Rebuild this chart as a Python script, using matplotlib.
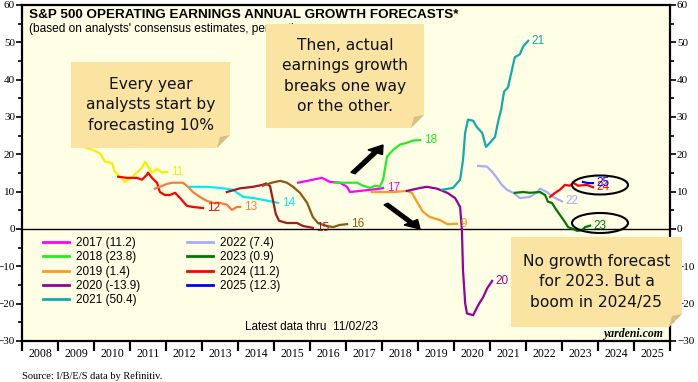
import matplotlib
matplotlib.use("Agg")
import matplotlib.pyplot as plt
from matplotlib.patches import Polygon, Ellipse, FancyArrow
from matplotlib.lines import Line2D

W, H = 698, 382

# forecast year -> (decimal years, growth %)
y2011_x = [2009.45, 2009.69, 2009.97, 2010.17, 2010.31, 2010.50, 2010.58, 2010.72, 2010.86, 2011.00,
           2011.19, 2011.33, 2011.42, 2011.50, 2011.61, 2011.75, 2011.89, 2012.03]
y2011_v = [23.5, 22.0, 21.2, 20.2, 18.0, 17.7, 15.3, 14.0, 12.6, 13.4, 15.1, 16.4, 18.0, 16.7, 15.1, 16.1, 15.1, 15.3]

y2012_x = [2010.67, 2010.92, 2011.19, 2011.33, 2011.47, 2011.50, 2011.61, 2011.75, 2011.83, 2011.97,
           2012.11, 2012.25, 2012.39, 2012.58, 2012.75, 2013.03]
y2012_v = [14.0, 13.7, 13.7, 13.2, 14.5, 15.1, 13.7, 12.4, 9.9, 9.1, 9.1, 9.7, 8.3, 6.2, 5.9, 5.6]

y2013_x = [2011.69, 2011.83, 2012.03, 2012.19, 2012.47, 2012.61, 2012.75, 2012.94, 2013.14, 2013.31,
           2013.50, 2013.69, 2013.83, 2013.97, 2014.06]
y2013_v = [10.8, 11.3, 12.1, 12.4, 12.4, 11.3, 9.9, 8.6, 7.5, 7.0, 7.0, 6.5, 5.1, 5.9, 5.9]

y2014_x = [2012.67, 2013.14, 2013.50, 2013.86, 2014.14, 2014.42, 2014.69, 2014.97, 2015.11]
y2014_v = [11.3, 11.3, 11.0, 10.5, 8.6, 8.3, 7.8, 7.3, 7.0]

y2015_x = [2013.69, 2014.06, 2014.42, 2014.67, 2014.78, 2014.89, 2014.97, 2015.05, 2015.14, 2015.36,
           2015.64, 2015.81, 2016.08]
y2015_v = [9.9, 10.9, 11.3, 11.8, 12.2, 11.5, 7.8, 4.0, 2.2, 1.6, 1.6, 0.8, 0.3]

y2016_x = [2014.69, 2014.94, 2015.17, 2015.36, 2015.53, 2015.72, 2015.92, 2016.08, 2016.22, 2016.47,
           2016.64, 2016.83, 2017.03]
y2016_v = [11.6, 12.4, 12.9, 12.4, 11.3, 9.7, 7.0, 3.2, 1.6, 0.8, 0.5, 1.1, 1.3]

y2017_x = [2015.67, 2016.08, 2016.33, 2016.56, 2016.83, 2017.03, 2017.11, 2017.39, 2017.67, 2017.94, 2018.03]
y2017_v = [12.4, 13.2, 13.7, 12.6, 12.4, 11.3, 9.9, 10.2, 10.5, 10.8, 11.0]

y2018_x = [2016.69, 2017.03, 2017.31, 2017.47, 2017.67, 2017.81, 2017.94, 2018.03, 2018.14, 2018.31,
           2018.50, 2018.69, 2018.86, 2019.06]
y2018_v = [12.4, 12.4, 12.4, 11.6, 11.0, 11.6, 11.3, 13.2, 19.4, 21.2, 22.6, 23.1, 23.7, 23.8]

y2019_x = [2017.72, 2018.03, 2018.31, 2018.69, 2018.83, 2018.97, 2019.14, 2019.33, 2019.61, 2019.81, 2020.08]
y2019_v = [9.9, 9.9, 9.9, 10.2, 9.7, 7.3, 4.6, 3.2, 2.4, 1.3, 1.4]

y2020_x = [2018.69, 2019.06, 2019.25, 2019.53, 2019.81, 2020.03, 2020.17, 2020.22, 2020.25, 2020.31,
           2020.36, 2020.53, 2020.64, 2020.72, 2020.81, 2020.92, 2021.06]
y2020_v = [10.2, 11.0, 11.3, 10.8, 9.7, 8.3, 5.9, -0.3, -11.0, -19.9, -22.6, -23.1, -21.0, -19.6,
           -18.3, -15.9, -13.9]

y2021_x = [2019.67, 2019.97, 2020.17, 2020.25, 2020.31, 2020.39, 2020.53, 2020.64, 2020.78, 2020.89,
           2021.00, 2021.14, 2021.22, 2021.31, 2021.39, 2021.50, 2021.61, 2021.69, 2021.83, 2021.92, 2022.06]
y2021_v = [10.5, 11.0, 13.2, 18.5, 25.8, 29.3, 29.0, 27.2, 25.8, 22.0, 23.1, 24.7, 28.5, 32.0, 36.8,
           37.9, 42.7, 46.0, 46.8, 48.9, 50.4]

y2022_x = [2020.67, 2020.92, 2021.06, 2021.19, 2021.33, 2021.47, 2021.64, 2021.83, 2022.11, 2022.31,
           2022.39, 2022.58, 2022.75, 2023.00]
y2022_v = [16.9, 16.7, 15.3, 13.7, 11.8, 10.5, 9.7, 8.3, 8.6, 9.9, 10.8, 9.9, 8.6, 7.4]

y2023_x = [2021.69, 2021.92, 2022.11, 2022.39, 2022.53, 2022.61, 2022.72, 2022.81, 2022.94, 2023.08,
           2023.17, 2023.31, 2023.42, 2023.56, 2023.64, 2023.78]
y2023_v = [9.7, 9.9, 9.7, 9.9, 9.1, 7.3, 7.0, 5.6, 3.8, 1.9, 0.5, 0.0, -0.5, -0.3, 0.5, 0.9]

y2024_x = [2022.67, 2022.81, 2022.94, 2023.08, 2023.22, 2023.31, 2023.44, 2023.69, 2023.86]
y2024_v = [8.6, 9.7, 10.5, 11.8, 11.6, 12.4, 11.6, 11.8, 11.2]

y2025_x = [2023.58, 2023.72, 2023.86]
y2025_v = [12.6, 12.3, 12.3]

series = [
    ("11", y2011_x, y2011_v, "#F2F200", False),
    ("12", y2012_x, y2012_v, "#FF0000", False),
    ("13", y2013_x, y2013_v, "#F47C3C", False),
    ("14", y2014_x, y2014_v, "#00EEF2", False),
    ("15", y2015_x, y2015_v, "#A3191F", False),
    ("16", y2016_x, y2016_v, "#8B5A10", False),
    ("17", y2017_x, y2017_v, "#FF00FF", True),
    ("18", y2018_x, y2018_v, "#22EE22", True),
    ("9", y2019_x, y2019_v, "#FF9A1A", True),
    ("20", y2020_x, y2020_v, "#990099", True),
    ("21", y2021_x, y2021_v, "#12AAAA", True),
    ("22", y2022_x, y2022_v, "#AAAAFF", True),
    ("23", y2023_x, y2023_v, "#007700", True),
    ("24", y2024_x, y2024_v, "#FF0000", True),
    ("25", y2025_x, y2025_v, "#0000FF", True),
]
legend_names = ["2017 (11.2)", "2018 (23.8)", "2019 (1.4)", "2020 (-13.9)", "2021 (50.4)",
                "2022 (7.4)", "2023 (0.9)", "2024 (11.2)", "2025 (12.3)"]

years = list(range(2008, 2026))
year_labels = [str(y) for y in years]


def fp(x, y):
    # pixel position -> figure fraction
    return (x / W, 1 - y / H)


fig = plt.figure(figsize=(W / 100, H / 100), dpi=100)
fig.patch.set_facecolor("white")
ax = fig.add_axes([22 / W, 1 - 341 / H, (670 - 22) / W, (341 - 5) / H])
ax.set_facecolor("#FFFFE5")
ax.set_xlim(2008, 2026)
ax.set_ylim(-30, 60)

for s in ax.spines.values():
    s.set_linewidth(1.6)

ax.axhline(0, color="black", lw=1.0, zorder=1)

handles = []
for lab, xs, vs, col, in_leg in series:
    ln, = ax.plot(xs, vs, color=col, lw=1.6, zorder=3)
    ax.text(xs[-1] + 0.1, vs[-1], lab, color=col, fontsize=8.5, va="center", ha="left",
            family="Liberation Sans", zorder=4)
    if in_leg:
        handles.append(Line2D([], [], color=col, lw=2))

# y axis
ax.set_yticks(range(-30, 61, 10))
ax.set_yticks(range(-30, 61, 5), minor=True)
ax.tick_params(axis="y", which="both", direction="out", left=True, right=True,
               labelleft=True, labelright=True, labelsize=8, width=1.2, pad=1)
ax.tick_params(axis="y", which="major", length=4)
ax.tick_params(axis="y", which="minor", length=3)

# x axis: ticks at year boundaries, labels mid-year
ax.set_xticks(range(2008, 2027))
ax.set_xticklabels([])
ax.set_xticks([y + 0.5 for y in years], minor=True)
ax.set_xticklabels(year_labels, minor=True)
ax.tick_params(axis="x", which="major", direction="out", length=7, width=1.6)
ax.tick_params(axis="x", which="minor", length=0, labelsize=8.5, pad=5)
for t in ax.get_xticklabels(minor=True) + ax.get_yticklabels():
    t.set_family("Liberation Serif")

leg = ax.legend(handles, legend_names, ncol=2, loc="upper left", frameon=False,
                bbox_to_anchor=(0.023, 0.327), prop={"family": "Liberation Sans", "size": 8.5},
                handlelength=2.2, handletextpad=0.6, labelspacing=0.2, columnspacing=4.0,
                borderpad=0)

# titles and notes
fig.text(*fp(29, 15), "S&P 500 OPERATING EARNINGS ANNUAL GROWTH FORECASTS*", fontsize=9.7,
         weight="bold", family="Liberation Sans", va="center")
fig.text(*fp(29, 29), "(based on analysts' consensus estimates, percent)", fontsize=8.6,
         family="Liberation Sans", va="center")
fig.text(*fp(245, 327), "Latest data thru  11/02/23", fontsize=8.5, family="Liberation Sans",
         va="center")
fig.text(*fp(663, 334), "yardeni.com", fontsize=8.5, family="Liberation Serif", weight="bold",
         style="italic", va="center", ha="right")
fig.text(*fp(22, 376), "Source: I/B/E/S data by Refinitiv.", fontsize=7.5,
         family="Liberation Serif", va="center")


def note(x0, y0, x1, y1, txt):
    f = 13
    body = [fp(x0, y0), fp(x1, y0), fp(x1, y1 - f), fp(x1 - f, y1), fp(x0, y1)]
    fig.add_artist(Polygon(body, closed=True, facecolor="#FBE3A2", edgecolor="none",
                           transform=fig.transFigure, zorder=6))
    fold = [fp(x1, y1 - f), fp(x1 - f, y1), fp(x1 - f + 3, y1 - f + 2)]
    fig.add_artist(Polygon(fold, closed=True, facecolor="#D8BE84", edgecolor="none",
                           transform=fig.transFigure, zorder=7))
    fig.text(*fp((x0 + x1) / 2, (y0 + y1) / 2), txt, fontsize=11.2, family="DejaVu Sans",
             ha="center", va="center", linespacing=1.45, color="#111111", zorder=8)


note(71, 62, 230, 148, "Every year\nanalysts start by\nforecasting 10%")
note(266, 24, 424, 128, "Then, actual\nearnings growth\nbreaks one way\nor the other.")
note(511, 237, 682, 327, "No growth forecast\nfor 2023. But a\nboom in 2024/25")

# hand drawn arrows and circles
for (xa, ya, xb, yb) in [(353, 173, 383, 145), (386, 204, 420, 229)]:
    (fx0, fy0), (fx1, fy1) = fp(xa, ya), fp(xb, yb)
    fig.add_artist(FancyArrow(fx0, fy0, fx1 - fx0, fy1 - fy0, width=0.007, head_width=0.024,
                              head_length=0.022, length_includes_head=True, color="black",
                              transform=fig.transFigure, zorder=5))
for (cx, cy, ew, eh) in [(600, 185, 56, 19), (600, 223, 56, 20)]:
    c = fp(cx, cy)
    fig.add_artist(Ellipse(c, ew / W, eh / H, facecolor="none", edgecolor="black", lw=1.5,
                           transform=fig.transFigure, zorder=5))

fig.savefig("out.png", dpi=100)
